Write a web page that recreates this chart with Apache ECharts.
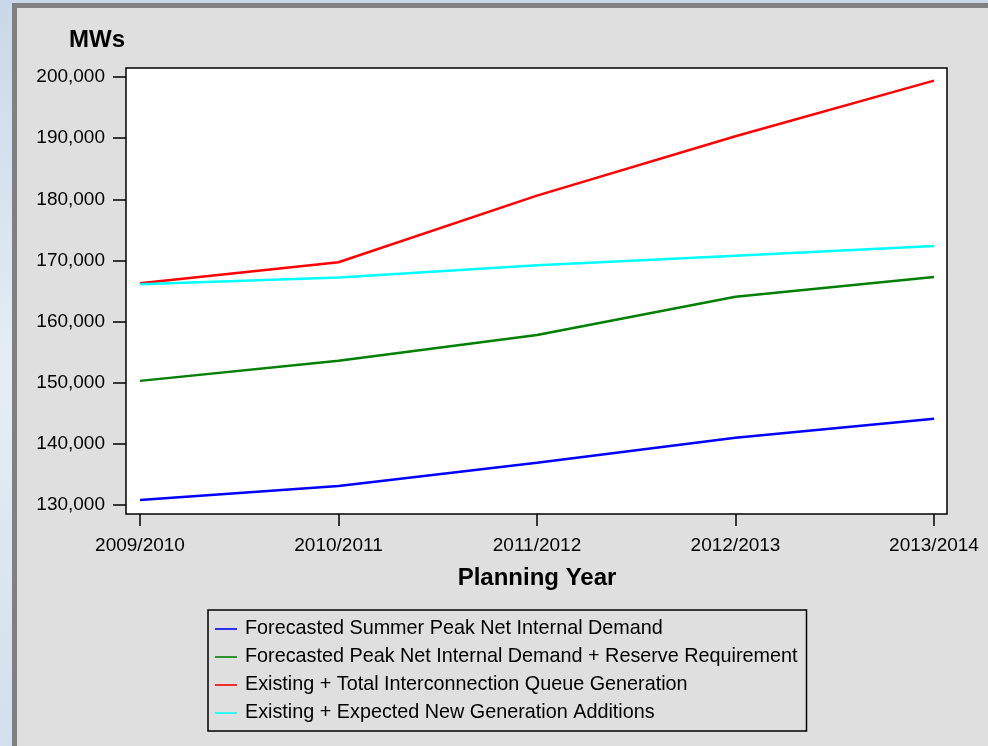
<!DOCTYPE html>
<html>
<head>
<meta charset="utf-8">
<script src="https://cdn.jsdelivr.net/npm/echarts@6/dist/echarts.min.js"></script>
<style>
html,body{margin:0;padding:0;background:#dfdfdf;}
#c{width:988px;height:746px;}
</style>
</head>
<body>
<div id="c"></div>
<script>
const categories = ['2009/2010', '2010/2011', '2011/2012', '2012/2013', '2013/2014'];
const seriesNames = [
  'Forecasted Summer Peak Net Internal Demand',
  'Forecasted Peak Net Internal Demand + Reserve Requirement',
  'Existing + Total Interconnection Queue Generation',
  'Existing + Expected New Generation Additions'
];
const demand = [130800, 133100, 136900, 141000, 144100];
const demandReserve = [150300, 153600, 157800, 164050, 167300];
const queueGen = [166250, 169700, 180600, 190300, 199400];
const expectedGen = [166100, 167200, 169200, 170750, 172350];
const yTicks = { min: 130000, max: 200000, step: 10000 };
const colors = ['#0000ff', '#008000', '#ff0000', '#00ffff'];

const chart = echarts.init(document.getElementById('c'), null, { renderer: 'canvas' });
const font = 'Liberation Sans, Arial, sans-serif';

function mk(name, data, color) {
  return {
    name: name, type: 'line', data: data, xAxisIndex: 1, yAxisIndex: 1,
    symbol: 'none', smooth: false,
    lineStyle: { color: color, width: 2.5 },
    itemStyle: { color: color },
    animation: false
  };
}

chart.setOption({
  backgroundColor: '#dfdfdf',
  animation: false,
  graphic: [
    { type: 'rect', shape: { x: 0, y: 0, width: 988, height: 746 }, z: -10,
      style: { fill: new echarts.graphic.LinearGradient(0, 0, 0, 1, [
        { offset: 0, color: '#c9d8e8' }, { offset: 0.5, color: '#e6edf5' }, { offset: 1, color: '#d3dfec' }]) } },
    { type: 'rect', shape: { x: 12, y: 3, width: 976, height: 743 }, z: -9, style: { fill: '#808080' } },
    { type: 'rect', shape: { x: 17, y: 8, width: 971, height: 738 }, z: -8, style: { fill: '#dfdfdf' } },
    { type: 'text', x: 69, y: 40, z: 10,
      style: { text: 'MWs', font: 'bold 24px ' + font, fill: '#000', textAlign: 'left', textVerticalAlign: 'middle' } },
    { type: 'text', x: 537, y: 578, z: 10,
      style: { text: 'Planning Year', font: 'bold 24px ' + font, fill: '#000', textAlign: 'center', textVerticalAlign: 'middle' } }
  ],
  grid: [
    { left: 126, top: 68, right: 41, bottom: 232, show: true, backgroundColor: '#ffffff',
      borderColor: '#000000', borderWidth: 1.5, z: 0 },
    { left: 140, top: 77, right: 54, bottom: 241, show: false }
  ],
  xAxis: [
    { gridIndex: 0, type: 'value', show: false, min: 0, max: 1 },
    { gridIndex: 1, type: 'category', data: categories, boundaryGap: false, offset: 9,
      axisLine: { show: false },
      axisTick: { show: true, length: 12, lineStyle: { color: '#000', width: 1.5 } },
      axisLabel: { margin: 22, color: '#000', fontFamily: font, fontSize: 19 },
      splitLine: { show: false } }
  ],
  yAxis: [
    { gridIndex: 0, type: 'value', show: false, min: 0, max: 1 },
    { gridIndex: 1, type: 'value', min: yTicks.min, max: yTicks.max, interval: yTicks.step, offset: 14,
      axisLine: { show: false },
      axisTick: { show: true, length: 13, lineStyle: { color: '#000', width: 1.5 } },
      axisLabel: { margin: 21, color: '#000', fontFamily: font, fontSize: 19,
        formatter: v => v.toLocaleString('en-US') },
      splitLine: { show: false } }
  ],
  legend: {
    orient: 'vertical', left: 208, top: 610,
    backgroundColor: '#dfdfdf', borderColor: '#000', borderWidth: 1.5,
    padding: [9, 9, 8, 7], itemGap: 8, itemWidth: 22, itemHeight: 1.6,
    icon: 'rect',
    textStyle: { color: '#000', fontFamily: font, fontSize: 19.8, lineHeight: 20, padding: [0, 0, 0, 3] },
    data: seriesNames,
    selectedMode: false
  },
  series: [
    mk(seriesNames[0], demand, colors[0]),
    mk(seriesNames[1], demandReserve, colors[1]),
    mk(seriesNames[2], queueGen, colors[2]),
    mk(seriesNames[3], expectedGen, colors[3])
  ]
});
</script>
</body>
</html>
